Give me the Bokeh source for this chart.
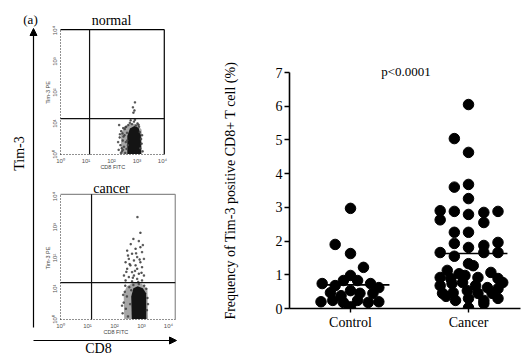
import math
from bokeh.plotting import figure
from bokeh.layouts import row
from bokeh.models import Range1d, Label, Arrow, NormalHead, FixedTicker
from bokeh.core.properties import value
from bokeh.embed import file_html
from bokeh.resources import INLINE

SERIF = "Liberation Serif"
SANS = "Liberation Sans"

# ------------------------------------------------------------------ data
# right panel: frequency of Tim-3+ CD8+ T cells (%)
categories = ["Control", "Cancer"]
control_values = [2.97, 1.90, 1.63, 1.22, 0.98, 0.74, 0.68, 0.83, 0.83, 0.74, 0.62,
                  0.47, 0.38, 0.53, 0.45, 0.45, 0.20, 0.24, 0.18, 0.24, 0.18, 0.20, 0.05]
control_jitter = [0.00, -0.13, 0.00, 0.11, 0.00, -0.24, -0.13, -0.06, 0.06, 0.17, 0.24,
                  -0.17, -0.08, 0.00, 0.08, 0.19, -0.25, -0.15, -0.06, 0.06, 0.15, 0.24, 0.00]
cancer_values = [6.05, 5.04, 4.63, 3.60, 3.68, 3.26, 2.90, 2.63, 2.88, 2.79, 2.85, 2.55,
                 2.88, 2.26, 2.26, 1.93, 1.81, 1.87, 1.96, 1.66, 1.55, 1.66, 1.66,
                 1.33, 1.27, 1.13, 1.03, 1.07, 0.92, 0.89, 0.98, 0.92, 0.89, 0.77,
                 0.68, 0.74, 0.77, 0.68, 0.62, 0.59, 0.45, 0.47, 0.53, 0.45, 0.45,
                 0.24, 0.30, 0.24, 0.30, 0.36, 0.15, 0.02]
cancer_jitter = [0.00, -0.12, 0.00, -0.12, 0.00, 0.00, -0.24, -0.24, -0.12, 0.00, 0.13, 0.13,
                 0.25, -0.12, 0.00, -0.12, 0.00, 0.13, 0.25, -0.24, -0.12, 0.13, 0.25,
                 0.00, 0.04, -0.18, -0.08, 0.19, -0.24, -0.15, -0.03, 0.08, 0.25, 0.29,
                 -0.24, -0.14, -0.05, 0.06, 0.16, 0.25, -0.22, -0.13, -0.01, 0.08, 0.20,
                 -0.11, 0.00, 0.13, 0.25, -0.19, 0.13, 0.00]
group_medians = [0.70, 1.63]
p_value_text = "p<0.0001"
y_ticks = [0, 1, 2, 3, 4, 5, 6, 7]
y_title = "Frequency of Tim-3 positive CD8+ T cell (%)"

# left panel: flow cytometry (log10 CD8 FITC, log10 Tim-3 PE)
decade_ticks = [0, 1, 2, 3, 4]
decade_labels = ["10\u2070", "10\u00b9", "10\u00b2", "10\u00b3", "10\u2074"]
normal_gate = [1.14, 1.16]
cancer_gate = [1.15, 1.20]

normal_events_x = [2.28, 2.32, 2.35, 2.38, 2.41, 2.44, 2.46, 2.49, 2.51, 2.54, 2.56, 2.58,
                   2.61, 2.30, 2.37, 2.43, 2.52, 2.59, 2.66, 2.72, 2.80, 2.88, 2.95, 3.02,
                   3.08, 2.75, 2.92, 3.13, 3.16, 3.11, 3.18, 3.20, 2.86, 2.90, 2.84, 2.92,
                   2.64, 2.47, 2.40, 3.06, 2.33, 2.45, 2.55, 2.62, 3.22, 2.26]
normal_events_y = [0.15, 0.55, 0.30, 0.75, 0.10, 0.45, 0.85, 0.25, 0.62, 0.05, 0.40, 0.90,
                   0.70, 0.95, 0.05, 0.68, 0.82, 0.18, 0.95, 1.02, 0.98, 1.06, 0.93, 1.00,
                   0.90, 1.10, 1.12, 0.20, 0.50, 0.72, 0.35, 0.62, 1.35, 1.42, 1.52, 1.68,
                   0.30, 0.58, 0.20, 0.96, 0.65, 0.15, 0.88, 0.45, 0.10, 0.40]
normal_core_x = [2.62, 2.62, 2.72, 2.90, 3.06, 3.15, 3.16]
normal_core_y = [0.02, 0.60, 0.84, 0.92, 0.86, 0.62, 0.02]
normal_halo_x = [2.38, 2.37, 2.50, 2.75, 3.00, 3.18, 3.20]
normal_halo_y = [0.02, 0.66, 0.88, 1.00, 0.98, 0.80, 0.02]

cancer_events_x = [2.47, 2.65, 2.78, 2.96, 3.02, 2.53, 2.72, 2.84, 2.41, 2.59, 2.96, 3.09,
                   2.47, 2.65, 2.84, 3.02, 2.35, 2.53, 2.72, 2.90, 3.09, 2.41, 2.65, 2.84,
                   3.02, 2.78, 2.85, 2.96, 2.60, 2.90, 2.70, 3.05, 2.30, 2.34, 2.38, 2.42,
                   2.46, 2.50, 2.55, 2.58, 2.62, 3.20, 3.22, 3.18, 3.10, 2.90, 2.70, 2.56,
                   2.76, 2.93, 2.50, 2.68, 2.88, 2.44, 2.80, 3.00, 2.28, 2.32, 3.24, 2.40]
cancer_events_y = [2.24, 2.14, 2.30, 2.35, 2.19, 1.97, 1.92, 2.03, 1.86, 1.76, 1.86, 1.97,
                   1.65, 1.54, 1.65, 1.70, 1.43, 1.38, 1.43, 1.49, 1.43, 1.27, 1.24, 1.32,
                   1.27, 1.76, 3.33, 2.82, 2.45, 2.55, 2.62, 2.42, 0.20, 0.55, 0.90, 0.35,
                   0.75, 0.10, 1.05, 0.50, 0.95, 0.30, 0.70, 1.00, 1.10, 1.15, 1.12, 1.80,
                   1.58, 1.95, 2.08, 1.36, 1.22, 1.55, 2.15, 1.52, 0.45, 0.80, 0.50, 1.10]
cancer_core_x = [2.64, 2.62, 2.70, 2.86, 3.05, 3.17, 3.18]
cancer_core_y = [0.02, 0.75, 1.02, 1.08, 1.02, 0.85, 0.02]
cancer_halo_x = [2.36, 2.34, 2.46, 2.70, 3.00, 3.22, 3.24]
cancer_halo_y = [0.02, 0.85, 1.08, 1.20, 1.17, 0.98, 0.02]

# ------------------------------------------------------------------ layout constants
H = 358
LW = 215
RW = 308


def fx(px):
    return px


def fy(py):
    return H - py


def log_range(origin, per_decade, extent):
    start = -origin / per_decade
    return Range1d(start, start + extent / per_decade)


# ------------------------------------------------------------------ left figure
left = figure(width=LW, height=H, x_range=Range1d(0, LW), y_range=Range1d(0, H),
              output_backend="svg", toolbar_location=None, min_border=0,
              x_axis_location=None, y_axis_location=None, title=None,
              outline_line_color=None)
left.grid.visible = False

# panel geometry (page px): origin of decade 0 and px per decade
panels = {
    "n": dict(x0=60, y0=154, dx=25.5, dy=31.0, xmax=4.07, ymax=4.03, top_color="black"),
    "c": dict(x0=60, y0=319, dx=27.0, dy=30.75, xmax=4.25, ymax=4.07, top_color="#8c8c8c"),
}
left.extra_x_ranges = {k + "x": log_range(fx(v["x0"]), v["dx"], LW) for k, v in panels.items()}
left.extra_y_ranges = {k + "y": log_range(fy(v["y0"]), v["dy"], H) for k, v in panels.items()}

flow = {
    "n": dict(ex=normal_events_x, ey=normal_events_y, cx=normal_core_x, cy=normal_core_y,
              hx=normal_halo_x, hy=normal_halo_y, gate=normal_gate, title="normal", tb=20),
    "c": dict(ex=cancer_events_x, ey=cancer_events_y, cx=cancer_core_x, cy=cancer_core_y,
              hx=cancer_halo_x, hy=cancer_halo_y, gate=cancer_gate, title="cancer", tb=188),
}

for k, g in panels.items():
    d = flow[k]
    rn = dict(x_range_name=k + "x", y_range_name=k + "y")
    xm, ym = g["xmax"], g["ymax"]
    # density regions and events
    left.patch(d["hx"], d["hy"], fill_color="#a6a6a6", line_color=None, **rn)
    left.patch(d["cx"], d["cy"], fill_color="#141414", line_color=None, **rn)
    left.scatter(d["ex"], d["ey"], marker="square", size=1.4, color="#444444",
                 alpha=0.8, **rn)
    # frame: solid top/right, dotted left/bottom axes
    left.segment(x0=[0, xm], y0=[ym, 0], x1=[xm, xm], y1=[ym, ym],
                 line_color=g["top_color"], line_width=1.2, **rn)
    left.segment(x0=[0, 0], y0=[0, 0], x1=[0, xm], y1=[ym, 0],
                 line_color="#222222", line_width=1.0, line_dash="1 2", **rn)
    # quadrant gates
    gx, gy = d["gate"]
    left.segment(x0=[gx, 0], y0=[0, gy], x1=[gx, xm], y1=[ym, gy],
                 line_color="#111111", line_width=1.2, **rn)
    # tick labels
    lab_off_y = -6.0 / g["dy"]
    lab_off_x = -6.0 / g["dx"]
    left.text(x=decade_ticks, y=[lab_off_y] * len(decade_ticks), text=decade_labels,
              text_font=value(SANS), text_font_size="6px", text_color="#555555",
              text_align="center", text_baseline="middle", **rn)
    left.text(x=[lab_off_x] * len(decade_ticks), y=decade_ticks, text=decade_labels,
              text_font=value(SANS), text_font_size="6px", text_color="#555555",
              angle=math.pi / 2, text_align="center", text_baseline="middle", **rn)
    left.text(x=[2.05], y=[-12.5 / g["dy"]], text=["CD8 FITC"], text_font=value(SANS),
              text_font_size="5.5px", text_color="#444444", text_align="center",
              text_baseline="middle", **rn)
    left.text(x=[-13.0 / g["dx"]], y=[2.0], text=["Tim-3 PE"], text_font=value(SANS),
              text_font_size="5.5px", text_color="#444444", angle=math.pi / 2,
              text_align="center", text_baseline="middle", **rn)
    left.add_layout(Label(x=fx(111), y=fy(d["tb"]), text=d["title"], text_font=SERIF,
                          text_font_size="14px", text_align="center", text_color="black",
                          text_baseline="alphabetic"))

# big axis arrows and labels
left.add_layout(Arrow(x_start=fx(33), y_start=fy(327), x_end=fx(33), y_end=fy(28),
                      line_width=1.2, line_color="black",
                      end=NormalHead(size=7, fill_color="black", line_color="black")))
left.add_layout(Arrow(x_start=fx(33), y_start=fy(340), x_end=fx(176), y_end=fy(340),
                      line_width=1.2, line_color="black",
                      end=NormalHead(size=7, fill_color="black", line_color="black")))
left.add_layout(Label(x=fx(30), y=fy(19), text="(a)", text_font=SERIF, text_color="black",
                      text_font_size="13px", text_align="center", text_baseline="middle"))
left.add_layout(Label(x=fx(19), y=fy(153), text="Tim-3", text_font=SERIF, text_color="black",
                      text_font_size="14px", text_align="center", text_baseline="middle",
                      angle=math.pi / 2))
left.add_layout(Label(x=fx(98), y=fy(348), text="CD8", text_font=SERIF, text_color="black",
                      text_font_size="14px", text_align="center", text_baseline="middle"))

# ------------------------------------------------------------------ right figure
# frame covers the whole canvas; axes are pinned at x=axis position and y=0
AX_X, TOP_Y, BOT_Y, RIGHT_X = 289, 72, 308, 520
CTRL_X = 350
CAT_PX = 118.0
PX_PER_UNIT = (BOT_Y - TOP_Y) / 7.0
cat_pos = [1, 2]
x_start = 1 - (CTRL_X - LW) / CAT_PX
y_start = -(H - BOT_Y) / PX_PER_UNIT
axis_x = 1 - (CTRL_X - AX_X) / CAT_PX
axis_x_end = 1 + (RIGHT_X - CTRL_X) / CAT_PX

right = figure(width=RW, height=H,
               x_range=Range1d(x_start, x_start + RW / CAT_PX),
               y_range=Range1d(y_start, y_start + H / PX_PER_UNIT),
               output_backend="svg", toolbar_location=None, title=None,
               min_border=0, outline_line_color=None)
right.grid.visible = False

right.scatter([cat_pos[0] + j for j in control_jitter], control_values,
              size=10.5, color="black")
right.scatter([cat_pos[1] + j for j in cancer_jitter], cancer_values,
              size=10.5, color="black")
# mask the part of the markers below the x axis (as the original frame clips them)
right.quad(left=[axis_x], right=[axis_x_end], bottom=[y_start], top=[0],
           fill_color="white", line_color=None)
right.segment(x0=[c - 0.27 for c in cat_pos], x1=[c + 0.33 for c in cat_pos],
              y0=group_medians, y1=group_medians, line_color="black", line_width=1.6)

for ax in (right.xaxis[0], right.yaxis[0]):
    ax.axis_line_width = 1.6
    ax.axis_line_color = "black"
    ax.major_tick_line_color = "black"
    ax.major_tick_line_width = 1.4
    ax.major_tick_in = 0
    ax.minor_tick_line_color = None
    ax.major_label_text_font = SERIF
    ax.major_label_text_font_size = "14px"
    ax.major_label_text_color = "black"

right.yaxis.fixed_location = axis_x
right.yaxis.bounds = (0, 7)
right.yaxis.ticker = FixedTicker(ticks=y_ticks)
right.yaxis.major_tick_out = 5
right.yaxis.major_label_standoff = 2
right.yaxis.axis_label = y_title
right.yaxis.axis_label_text_font = SERIF
right.yaxis.axis_label_text_font_style = "normal"
right.yaxis.axis_label_text_font_size = "14px"
right.yaxis.axis_label_text_color = "black"
right.yaxis.axis_label_standoff = 35

right.xaxis.fixed_location = 0
right.xaxis.bounds = (axis_x, axis_x_end)
right.xaxis.ticker = FixedTicker(ticks=cat_pos)
right.xaxis.major_label_overrides = {c: n for c, n in zip(cat_pos, categories)}
right.xaxis.major_tick_out = 4
right.xaxis.major_label_standoff = 2

right.add_layout(Label(x=1.47, y=6.8, text=p_value_text, text_font=SERIF,
                       text_font_size="13px", text_align="center", text_color="black",
                       text_baseline="bottom"))

page = row(left, right)
open("out.html", "w").write(file_html(page, INLINE))
